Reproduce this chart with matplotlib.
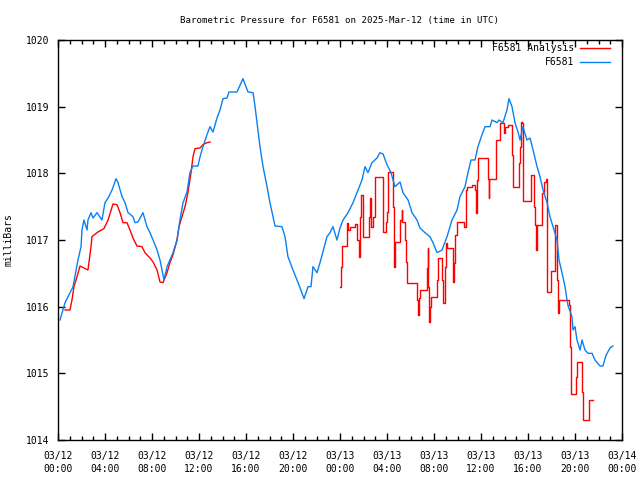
import numpy as np
import matplotlib
matplotlib.use("Agg")
import matplotlib.pyplot as plt
from matplotlib.ticker import MultipleLocator

# hours since 03/12 00:00 UTC, pressure in millibars
station_t = [0.17, 0.60, 1.02, 1.28, 1.70, 1.96, 2.04, 2.21, 2.47, 2.55, 2.81, 2.98,
             3.32, 3.74, 4.00, 4.26, 4.60, 4.94, 5.11, 5.45, 5.70, 5.96, 6.38, 6.55,
             6.81, 7.23, 7.57, 7.83, 8.09, 8.43, 8.68, 9.02, 9.28, 9.79, 10.13, 10.38,
             10.64, 10.98, 11.23, 11.49, 11.91, 12.09, 12.34, 12.68, 12.94, 13.19,
             13.53, 13.79, 14.04, 14.38, 14.55, 15.23, 15.74, 16.17, 16.60, 16.77,
             16.94, 17.19, 17.45, 17.79, 18.04, 18.47, 19.06, 19.32, 19.57, 20.00,
             20.43, 20.94, 21.28, 21.53, 21.70, 22.04, 22.30, 22.89, 23.15, 23.40,
             23.74, 24.00, 24.26, 24.68, 25.11, 25.53, 25.87, 26.13, 26.38, 26.72,
             27.15, 27.40, 27.66, 28.00, 28.34, 28.68, 29.11, 29.36, 29.79, 30.13,
             30.55, 30.81, 31.23, 31.66, 31.91, 32.26, 32.68, 33.11, 33.53, 33.96,
             34.21, 34.64, 34.89, 35.15, 35.49, 35.74, 36.09, 36.34, 36.77, 36.94,
             37.36, 37.53, 37.87, 38.21, 38.38, 38.64, 38.89, 39.15, 39.32, 39.57,
             39.91, 40.17, 40.43, 40.77, 41.02, 41.28, 41.62, 41.87, 42.13, 42.47,
             42.64, 42.89, 43.15, 43.32, 43.40, 43.74, 43.83, 44.00, 44.17, 44.43,
             44.60, 44.85, 45.11, 45.45, 45.70, 46.13, 46.38, 46.64, 46.98, 47.23]
station_p = [1015.80, 1016.06, 1016.21, 1016.30, 1016.70, 1016.90, 1017.15, 1017.30,
             1017.15, 1017.30, 1017.41, 1017.33, 1017.41, 1017.30, 1017.56, 1017.63,
             1017.75, 1017.92, 1017.86, 1017.65, 1017.56, 1017.41, 1017.35, 1017.26,
             1017.27, 1017.41, 1017.20, 1017.11, 1017.00, 1016.85, 1016.70, 1016.40,
             1016.60, 1016.81, 1017.00, 1017.30, 1017.56, 1017.72, 1018.01, 1018.11,
             1018.11, 1018.25, 1018.40, 1018.58, 1018.70, 1018.62, 1018.83, 1018.95,
             1019.12, 1019.13, 1019.22, 1019.22, 1019.42, 1019.22, 1019.21, 1019.00,
             1018.76, 1018.40, 1018.10, 1017.80, 1017.56, 1017.21, 1017.20, 1017.05,
             1016.75, 1016.55, 1016.36, 1016.12, 1016.30, 1016.30, 1016.60, 1016.51,
             1016.66, 1017.05, 1017.11, 1017.20, 1017.00, 1017.18, 1017.30, 1017.41,
             1017.56, 1017.75, 1017.90, 1018.10, 1018.01, 1018.16, 1018.23, 1018.31,
             1018.29, 1018.13, 1018.01, 1017.80, 1017.87, 1017.71, 1017.60, 1017.41,
             1017.30, 1017.18, 1017.11, 1017.05, 1016.96, 1016.81, 1016.85, 1017.05,
             1017.30, 1017.45, 1017.65, 1017.80, 1018.01, 1018.20, 1018.20, 1018.40,
             1018.58, 1018.70, 1018.70, 1018.80, 1018.76, 1018.80, 1018.76, 1018.95,
             1019.12, 1019.00, 1018.76, 1018.62, 1018.50, 1018.70, 1018.50, 1018.53,
             1018.35, 1018.10, 1017.95, 1017.75, 1017.56, 1017.35, 1017.20, 1017.00,
             1016.70, 1016.51, 1016.30, 1016.10, 1016.02, 1015.85, 1015.65, 1015.70,
             1015.50, 1015.35, 1015.50, 1015.35, 1015.30, 1015.30, 1015.20, 1015.11,
             1015.11, 1015.27, 1015.38, 1015.41]

# analysis, first day (smooth part)
anal1_t = [0.60, 1.02, 1.19, 1.36, 1.62, 1.87, 2.55, 2.81, 2.89, 3.40, 3.91, 4.26,
           4.68, 5.02, 5.28, 5.53, 5.87, 6.13, 6.38, 6.72, 7.15, 7.40, 7.83, 8.09,
           8.43, 8.68, 8.94, 9.28, 9.53, 9.79, 10.13, 10.30, 10.55, 10.81, 11.06,
           11.32, 11.49, 11.66, 12.09, 12.34, 12.68, 12.94]
anal1_p = [1015.95, 1015.95, 1016.10, 1016.30, 1016.45, 1016.61, 1016.55, 1016.90,
           1017.05, 1017.12, 1017.17, 1017.30, 1017.54, 1017.53, 1017.41, 1017.26,
           1017.26, 1017.15, 1017.03, 1016.91, 1016.90, 1016.81, 1016.73, 1016.67,
           1016.55, 1016.37, 1016.36, 1016.51, 1016.66, 1016.78, 1017.00, 1017.20,
           1017.35, 1017.50, 1017.71, 1018.01, 1018.25, 1018.37, 1018.38, 1018.43,
           1018.46, 1018.47]

# analysis, second day (stepped)
anal2_t = [24.00, 24.09, 24.17, 24.60, 24.71, 24.85, 25.28, 25.45, 25.62, 25.70,
           25.79, 25.96, 26.47, 26.55, 26.64, 26.81, 26.98, 27.63, 27.69, 27.91,
           28.00, 28.09, 28.54, 28.60, 28.68, 29.11, 29.25, 29.30, 29.53, 29.62,
           29.68, 30.57, 30.66, 30.72, 30.81, 31.38, 31.46, 31.51, 31.60, 31.66,
           31.72, 32.23, 32.31, 32.66, 32.79, 32.94, 33.02, 33.13, 33.59, 33.64,
           33.70, 33.79, 33.93, 34.58, 34.72, 34.83, 35.21, 35.49, 35.57, 35.63,
           35.69, 35.77, 36.62, 36.65, 36.71, 37.28, 37.62, 37.96, 38.04, 38.32,
           38.61, 38.70, 39.23, 39.32, 39.40, 39.49, 39.55, 39.60, 40.26, 40.54,
           40.60, 40.65, 40.74, 41.22, 41.36, 41.53, 41.59, 41.64, 41.94, 42.30,
           42.49, 42.58, 42.66, 43.51, 43.57, 43.63, 44.09, 44.14, 44.57, 44.64,
           45.19, 45.53]
anal2_p = [1016.30, 1016.60, 1016.91, 1017.26, 1017.15, 1017.20, 1017.24, 1017.00,
           1016.75, 1017.35, 1017.68, 1017.05, 1017.35, 1017.63, 1017.20, 1017.35,
           1017.95, 1017.56, 1017.12, 1017.27, 1017.42, 1018.02, 1017.50, 1016.60,
           1016.97, 1017.30, 1017.45, 1017.27, 1017.00, 1016.67, 1016.36, 1016.10,
           1015.88, 1016.13, 1016.25, 1016.58, 1016.88, 1016.30, 1015.77, 1016.00,
           1016.15, 1016.40, 1016.73, 1016.40, 1016.05, 1016.60, 1016.96, 1016.88,
           1016.63, 1016.37, 1016.66, 1017.08, 1017.27, 1017.20, 1017.75, 1017.80,
           1017.83, 1017.75, 1017.41, 1017.56, 1017.90, 1018.23, 1017.92, 1017.63,
           1017.92, 1018.50, 1018.76, 1018.61, 1018.70, 1018.73, 1018.28, 1017.80,
           1018.16, 1018.40, 1018.77, 1018.76, 1018.17, 1017.59, 1017.98, 1017.50,
           1017.23, 1016.85, 1017.23, 1017.71, 1017.87, 1017.92, 1017.08, 1016.22,
           1016.54, 1017.23, 1016.40, 1015.90, 1016.10, 1016.02, 1015.39, 1014.69,
           1014.95, 1015.17, 1014.72, 1014.30, 1014.60, 1014.60]

tick_labels = ["03/12\n00:00", "03/12\n04:00", "03/12\n08:00", "03/12\n12:00",
               "03/12\n16:00", "03/12\n20:00", "03/13\n00:00", "03/13\n04:00",
               "03/13\n08:00", "03/13\n12:00", "03/13\n16:00", "03/13\n20:00",
               "03/14\n00:00"]

plt.rcParams['font.family'] = ['DejaVu Sans Mono']
plt.rcParams['font.size'] = 7

fig = plt.figure(figsize=(6.4, 4.8), dpi=100)
ax = fig.add_axes([58/640, 40/480, 564/640, 400/480])

ax.plot(anal1_t, anal1_p, color='#ff0000', lw=1, label='F6581 Analysis')
ax.plot(anal2_t, anal2_p, color='#ff0000', lw=1, drawstyle='steps-post')
ax.plot(station_t, station_p, color='#0a80f0', lw=1, label='F6581')

ax.set_xlim(0, 48)
ax.set_ylim(1014, 1020)
ax.set_xticks(np.arange(0, 49, 4))
ax.set_xticklabels(tick_labels, linespacing=1.35)
ax.xaxis.set_minor_locator(MultipleLocator(1))
ax.set_yticks(np.arange(1014, 1021, 1))
ax.tick_params(which='both', direction='in', top=True, right=True, width=1)
ax.tick_params(which='major', length=5)
ax.tick_params(axis='x', which='major', pad=8)
ax.tick_params(axis='y', which='major', pad=6)
ax.tick_params(which='minor', length=3)
for s in ax.spines.values():
    s.set_linewidth(1)

ax.set_ylabel('milliBars', labelpad=9)
ax.set_title('Barometric Pressure for F6581 on 2025-Mar-12 (time in UTC)',
             fontsize=6.6, pad=12.5)

leg = ax.legend(loc='upper right', bbox_to_anchor=(0.9787, 0.9925),
                frameon=False, markerfirst=False, borderaxespad=0, borderpad=0,
                handlelength=3.1, handletextpad=0.6, labelspacing=0.45)
for t in leg.get_texts():
    t.set_ha('right')

fig.savefig('out.png', dpi=100)
